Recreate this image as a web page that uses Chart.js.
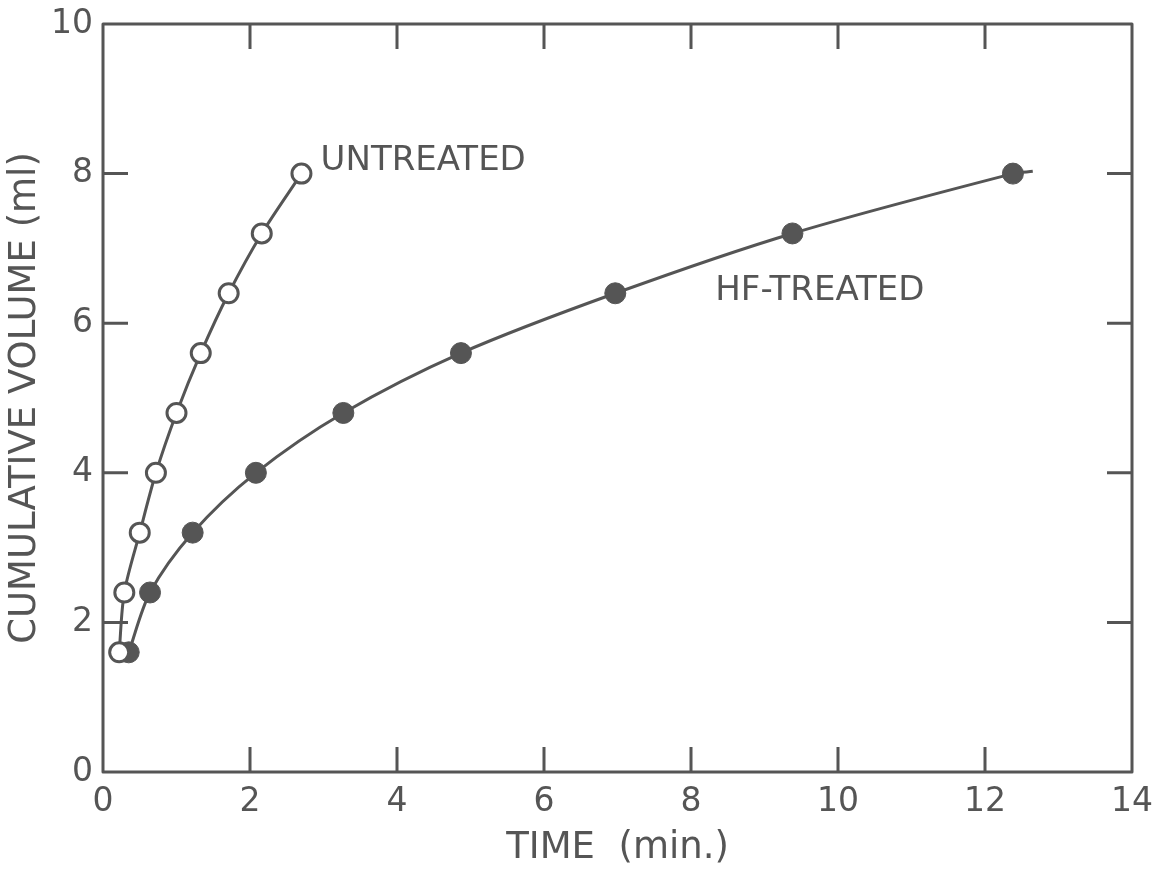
<!DOCTYPE html>
<html>
<head>
<meta charset="utf-8">
<script src="https://cdn.jsdelivr.net/npm/chart.js@4.4.1/dist/chart.umd.min.js"></script>
<style>
  html, body { margin: 0; padding: 0; background: #fff; }
  #wrap { width: 1153px; height: 873px; }
</style>
</head>
<body>
<div id="wrap"><canvas id="chart"></canvas></div>
<script>
// Cumulative volume vs time
const UNTREATED_T = [0.22, 0.29, 0.50, 0.72, 1.00, 1.33, 1.71, 2.16, 2.70];
const UNTREATED_V = [1.6, 2.4, 3.2, 4.0, 4.8, 5.6, 6.4, 7.2, 8.0];
const HF_T = [0.35, 0.64, 1.22, 2.08, 3.27, 4.87, 6.97, 9.38, 12.38, 12.65];
const HF_V = [1.6, 2.4, 3.2, 4.0, 4.8, 5.6, 6.4, 7.2, 8.0, 8.03];
const HF_SHOW = [1, 1, 1, 1, 1, 1, 1, 1, 1, 0]; // last entry is curve tail only

const X_TICKS = [0, 2, 4, 6, 8, 10, 12, 14];
const Y_TICKS = [0, 2, 4, 6, 8, 10];

const SERIES_LABELS = [
  { text: "UNTREATED", x: 2.96, y: 8.16 },
  { text: "HF-TREATED", x: 8.33, y: 6.43 }
];

const INK = "#555";
const FONT = "'DejaVu Sans', sans-serif";

const toPts = (xs, ys) => xs.map((x, i) => ({ x, y: ys[i] }));

/* ── Frame, inward ticks and curve labels ───────────────────*/
const framePlugin = {
  id: "frame",
  afterDatasetsDraw(chart) {
    const { ctx, chartArea: a, scales } = chart;
    const len = 25;
    ctx.save();
    ctx.strokeStyle = INK;
    ctx.lineWidth = 3;
    ctx.beginPath();
    X_TICKS.slice(1, -1).forEach(t => {
      const px = scales.x.getPixelForValue(t);
      ctx.moveTo(px, a.bottom); ctx.lineTo(px, a.bottom - len);
      ctx.moveTo(px, a.top); ctx.lineTo(px, a.top + len);
    });
    Y_TICKS.slice(1, -1).forEach(t => {
      const py = scales.y.getPixelForValue(t);
      ctx.moveTo(a.left, py); ctx.lineTo(a.left + len, py);
      ctx.moveTo(a.right, py); ctx.lineTo(a.right - len, py);
    });
    ctx.stroke();
    ctx.lineJoin = "round";
    ctx.strokeRect(a.left, a.top, a.right - a.left, a.bottom - a.top);

    ctx.fillStyle = INK;
    ctx.font = "34px " + FONT;
    ctx.textBaseline = "middle";
    ctx.textAlign = "left";
    SERIES_LABELS.forEach(l => {
      ctx.fillText(l.text, scales.x.getPixelForValue(l.x), scales.y.getPixelForValue(l.y));
    });
    ctx.restore();
  }
};

new Chart(document.getElementById("chart"), {
  type: "line",
  data: {
    datasets: [
      {
        label: "Untreated",
        data: toPts(UNTREATED_T, UNTREATED_V),
        borderColor: INK,
        borderWidth: 3,
        backgroundColor: "#fff",
        pointBackgroundColor: "#fff",
        pointBorderColor: INK,
        pointBorderWidth: 3,
        pointRadius: 9.5,
        tension: 0.3
      },
      {
        label: "HF-treated",
        data: toPts(HF_T, HF_V),
        borderColor: INK,
        borderWidth: 3,
        pointBackgroundColor: INK,
        pointBorderColor: INK,
        pointBorderWidth: 1,
        pointRadius: HF_SHOW.map(s => s ? 10.5 : 0),
        tension: 0.3
      }
    ]
  },
  options: {
    responsive: true,
    maintainAspectRatio: false,
    animation: false,
    layout: { padding: { top: 24, right: 21, left: 0, bottom: 0 } },
    scales: {
      x: {
        type: "linear",
        min: 0, max: 14,
        afterFit: s => { s.height = 101; s.paddingLeft = 0; s.paddingRight = 0; },
        afterBuildTicks: s => { s.ticks = X_TICKS.map(v => ({ value: v })); },
        grid: { display: false, drawTicks: false },
        border: { display: false },
        ticks: { color: INK, padding: 11, font: { family: FONT, size: 33 } },
        title: { display: true, text: "TIME  (min.)", color: INK, padding: { top: 0, bottom: 2 }, font: { family: FONT, size: 37 } }
      },
      y: {
        type: "linear",
        min: 0, max: 10,
        afterFit: s => { s.width = 103; s.paddingTop = 0; s.paddingBottom = 0; },
        afterBuildTicks: s => { s.ticks = Y_TICKS.map(v => ({ value: v })); },
        grid: { display: false, drawTicks: false },
        border: { display: false },
        ticks: { color: INK, padding: 10, font: { family: FONT, size: 33 } },
        title: { display: true, text: "CUMULATIVE VOLUME (ml)", color: INK, padding: { top: 3, bottom: 0 }, font: { family: FONT, size: 37 } }
      }
    },
    plugins: {
      legend: { display: false },
      tooltip: { enabled: false }
    }
  },
  plugins: [framePlugin]
});
</script>
</body>
</html>
